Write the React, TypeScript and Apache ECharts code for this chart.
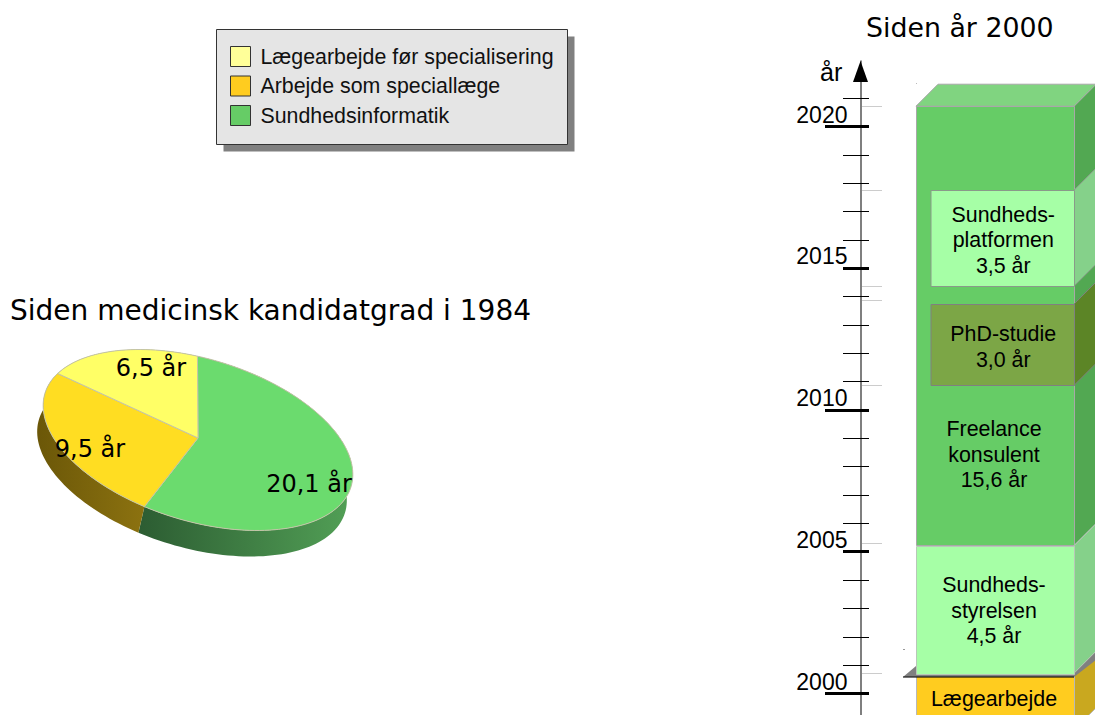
import React, { useEffect, useRef } from "react";
import * as echarts from "echarts";

// ---- Pie data ----
const pieLabels = ["20,1 år", "9,5 år", "6,5 år"];
const pieValues = [20.1, 9.5, 6.5];
const pieColors = ["#6bdb6e", "#ffdd22", "#ffff66"];
const pieWallFrom = ["#2c5c32", "#6b5708", "#8a8a30"];
const pieWallTo = ["#52a056", "#8c7210", "#8a8a30"];
const pieLabelAnchors = [[309, 484], [90, 449], [151, 368]];

// ---- Legend ----
const legendNames = ["Lægearbejde før specialisering", "Arbejde som speciallæge", "Sundhedsinformatik"];
const legendColors = ["#ffff99", "#ffcc1f", "#66cc66"];

// ---- Timeline ----
const tickYears = [2000, 2001, 2002, 2003, 2004, 2005, 2006, 2007, 2008, 2009, 2010, 2011, 2012, 2013, 2014, 2015, 2016, 2017, 2018, 2019, 2020, 2021];
const longTickYears = [2000, 2010, 2020];
const heavyTickYears = [2005, 2015];
const boundaryYears = [2000, 2004.6, 2010.15, 2013.15, 2013.65, 2017.05, 2020];

const blockLabels = ["Lægearbejde", "Freelance\nkonsulent\n15,6 år", "Sundheds-\nstyrelsen\n4,5 år", "PhD-studie\n3,0 år", "Sundheds-\nplatformen\n3,5 år"];
const blockStart = [1998, 2004.5, 2000, 2010.15, 2013.65];
const blockEnd = [1999.9, 2020, 2004.5, 2013.02, 2017.04];
const blockLabelYear = [1999.08, 2007.7, 2002.2, 2011.5, 2015.27];
const blockInset = [false, false, false, true, true];
const blockFront = ["#ffcc1f", "#66cc66", "#a6ffa6", "#7ca646", "#a6ffa6"];
const blockSide = ["#c9a81f", "#52a852", "#85d18a", "#5c8526", "#85d18a"];
const blockEdge = ["#b8b8b8", "#a8a8a8", "#b8c8b8", "#808080", "#8a9a8a"];

const AXIS_X = 860.5;
const DEPTH = 22;
const PX_PER_YEAR = 28.35;
const PIE = { ax: 198, ay: 438, cx: 198, cy: 440, a: 160, b: 81, phi: 17, t0: -9, dx: -6, dy: 26 };

const rad = (d: number) => (d * Math.PI) / 180;
function ellipsePoint(tDeg: number, dx = 0, dy = 0) {
  const xp = PIE.a * Math.sin(rad(tDeg));
  const yp = -PIE.b * Math.cos(rad(tDeg));
  const c = Math.cos(rad(PIE.phi));
  const s = Math.sin(rad(PIE.phi));
  return [PIE.cx + xp * c - yp * s + dx, PIE.cy + xp * s + yp * c + dy];
}
const pieTotal = pieValues.reduce((a, b) => a + b, 0);
function sliceRange(i: number) {
  let before = 0;
  for (let k = 0; k < i; k++) before += pieValues[k];
  return [PIE.t0 + (before / pieTotal) * 360, PIE.t0 + ((before + pieValues[i]) / pieTotal) * 360];
}
function arc(t0: number, t1: number, dx = 0, dy = 0) {
  const out: number[][] = [];
  const n = Math.ceil((t1 - t0) / 2);
  for (let i = 0; i <= n; i++) out.push(ellipsePoint(t0 + ((t1 - t0) * i) / n, dx, dy));
  return out;
}

const font = "Liberation Sans, Arial, sans-serif";
const titleFont = "DejaVu Sans, Verdana, sans-serif";

export default function App() {
  const ref = useRef<HTMLDivElement>(null);
  useEffect(() => {
    document.body.style.margin = "0";
    document.body.style.overflow = "hidden";
    const chart = echarts.init(ref.current!, undefined, { renderer: "svg" });
    const option: any = {
      animation: false,
      backgroundColor: "#ffffff",
      grid: [
        { left: AXIS_X, top: 61, width: 100, height: PX_PER_YEAR * 23.3 },
        { left: 916, top: 41, width: 158, height: PX_PER_YEAR * 23.3 },
      ],
      xAxis: [
        { type: "value", gridIndex: 0, min: 0, max: 1, show: false },
        { type: "value", gridIndex: 1, min: 0, max: 1, show: false },
      ],
      yAxis: [
        {
          type: "value",
          gridIndex: 0,
          min: 1999,
          max: 2022.3,
          interval: 1,
          position: "left",
          splitLine: { show: false },
          axisTick: { show: false },
          axisLine: {
            show: true,
            onZero: false,
            lineStyle: { color: "#555555", width: 1.5 },
          },
          axisLabel: {
            show: true,
            margin: 13,
            fontSize: 23,
            fontFamily: font,
            color: "#000",
            verticalAlign: "bottom",
            showMinLabel: true,
            showMaxLabel: true,
            formatter: (v: number) => (v % 5 === 0 ? String(v) : ""),
          },
        },
        { type: "value", gridIndex: 1, min: 1999, max: 2022.3, show: false },
      ],
      legend: {
        orient: "vertical",
        left: 230,
        top: 46,
        padding: 0,
        itemWidth: 20,
        itemHeight: 20,
        itemGap: 8.5,
        selectedMode: false,
        z: 6,
        textStyle: { fontFamily: font, fontSize: 21.35, lineHeight: 20, color: "#111", padding: [0, 0, 0, 5] },
        data: legendNames.map((n, i) => ({
          name: n,
          icon: "rect",
          itemStyle: { color: legendColors[i], borderColor: "#333", borderWidth: 1 },
        })),
      },
      graphic: [
        { type: "rect", z: 1, shape: { x: 223.5, y: 36.5, width: 351, height: 115 }, style: { fill: "#808080" } },
        { type: "rect", z: 2, shape: { x: 216.5, y: 29.5, width: 351, height: 115 }, style: { fill: "#e5e5e5", stroke: "#333", lineWidth: 1 } },
        { type: "text", z: 6, x: 10, y: 296, style: { text: "Siden medicinsk kandidatgrad i 1984", font: `28px ${titleFont}`, fill: "#000" } },
        { type: "text", z: 6, x: 866, y: 14, style: { text: "Siden år 2000", font: `26.8px ${titleFont}`, fill: "#000" } },
        { type: "text", z: 6, x: 820, y: 59, style: { text: "år", font: `25px ${font}`, fill: "#000" } },
        { type: "polygon", z: 6, shape: { points: [[860.5, 61], [868, 82], [853, 82]] }, style: { fill: "#000" } },
        { type: "rect", z: 1, shape: { x: 916, y: 83, width: 1, height: 1 }, style: { fill: "#bbb" } },
        { type: "rect", z: 1, shape: { x: 903, y: 649, width: 2, height: 1 }, style: { fill: "#999" } },
      ],
      series: [
        ...legendNames.map((n, i) => ({
          type: "custom",
          name: n,
          coordinateSystem: "none",
          itemStyle: { color: legendColors[i] },
          data: [],
          renderItem: () => null,
        })),
        // pie wall
        {
          type: "custom",
          coordinateSystem: "none",
          silent: true,
          z: 3,
          data: pieValues.map((v) => [v]),
          renderItem: (params: any) => {
            const i = params.dataIndex;
            const [t0, t1] = sliceRange(i);
            const top = arc(t0, t1);
            const low = arc(t0, t1, PIE.dx, PIE.dy).reverse();
            return {
              type: "polygon",
              shape: { points: [...top, ...low] },
              style: {
                fill: new echarts.graphic.LinearGradient(0, 0, 1, 0, [
                  { offset: 0, color: pieWallFrom[i] },
                  { offset: 1, color: pieWallTo[i] },
                ]),
              },
            };
          },
        },
        // pie top faces
        {
          type: "custom",
          coordinateSystem: "none",
          silent: true,
          z: 4,
          data: pieValues.map((v) => [v]),
          renderItem: (params: any) => {
            const i = params.dataIndex;
            const [t0, t1] = sliceRange(i);
            return {
              type: "polygon",
              shape: { points: [[PIE.ax, PIE.ay], ...arc(t0, t1)] },
              style: { fill: pieColors[i], stroke: "#c4c4a8", lineWidth: 1 },
            };
          },
        },
        // pie labels
        {
          type: "custom",
          coordinateSystem: "none",
          silent: true,
          z: 5,
          data: pieValues.map((v) => [v]),
          renderItem: (params: any) => {
            const i = params.dataIndex;
            return {
              type: "text",
              x: pieLabelAnchors[i][0],
              y: pieLabelAnchors[i][1],
              style: { text: pieLabels[i], font: `24px ${titleFont}`, fill: "#000", align: "center", verticalAlign: "middle" },
            };
          },
        },
        // axis ticks
        {
          type: "custom",
          xAxisIndex: 0,
          yAxisIndex: 0,
          silent: true,
          z: 3,
          data: tickYears.map((y) => [0, y]),
          renderItem: (_: any, api: any) => {
            const year = api.value(1);
            const y = Math.round(api.coord([0, year])[1]) + 0.5;
            const long = longTickYears.includes(year);
            const heavy = long || heavyTickYears.includes(year);
            return {
              type: "line",
              shape: { x1: AXIS_X - (long ? 35.5 : 17.5), y1: y, x2: AXIS_X + 8.5, y2: y },
              style: { stroke: "#000", lineWidth: heavy ? 3 : 1 },
            };
          },
        },
        // boundary marks
        {
          type: "custom",
          xAxisIndex: 1,
          yAxisIndex: 1,
          silent: true,
          z: 2,
          data: boundaryYears.map((y) => [0, y]),
          renderItem: (_: any, api: any) => {
            const y = Math.round(api.coord([0, api.value(1)])[1]) + 0.5;
            return { type: "line", shape: { x1: 862, y1: y, x2: 882, y2: y }, style: { stroke: "#cccccc", lineWidth: 1 } };
          },
        },
        // blocks
        {
          type: "custom",
          xAxisIndex: 1,
          yAxisIndex: 1,
          silent: true,
          z: 3,
          data: blockStart.map((s, i) => [s, blockEnd[i]]),
          renderItem: (params: any, api: any) => {
            const i = params.dataIndex;
            const y0 = api.coord([0, api.value(0)])[1];
            const y1 = api.coord([0, api.value(1)])[1];
            const xL = api.coord([0, 2000])[0];
            const xR = api.coord([1, 2000])[0];
            const x0 = blockInset[i] ? xL + 14.5 : xL;
            const children: any[] = [];
            children.push({
              type: "polygon",
              shape: { points: [[xR, y0], [xR, y1], [xR + DEPTH, y1 - DEPTH], [xR + DEPTH, y0 - DEPTH]] },
              style: { fill: blockSide[i], stroke: blockEdge[i], lineWidth: 1 },
            });
            if (i === 1) {
              children.push({
                type: "polygon",
                shape: { points: [[xL, y1], [xL + DEPTH, y1 - DEPTH], [xR + DEPTH, y1 - DEPTH], [xR, y1]] },
                style: { fill: "#80d480", stroke: blockEdge[i], lineWidth: 1 },
              });
            }
            children.push({
              type: "rect",
              shape: { x: x0 + 0.5, y: Math.round(y1) + 0.5, width: xR - x0, height: Math.round(y0 - y1) },
              style: { fill: blockFront[i], stroke: blockEdge[i], lineWidth: 1 },
            });
            if (i === 0) {
              // shelf between the two periods
              children.push({
                type: "polygon",
                shape: { points: [[xL - 13, y1 + 1], [xL, y1 - 10], [xR, y1 - 10], [xR + DEPTH, y1 - 26], [xR + DEPTH, y1 - 16], [xR, y1 + 1]] },
                style: { fill: "#808080" },
              });
              children.push({ type: "line", shape: { x1: xL - 13, y1: y1 + 1, x2: xR, y2: y1 + 1 }, style: { stroke: "#000", lineWidth: 1 } });
            }
            const ly = api.coord([0, blockLabelYear[i]])[1];
            children.push({
              type: "text",
              x: blockInset[i] ? (x0 + xR) / 2 + 1 : (x0 + xR) / 2 - 1,
              y: ly,
              z2: 10,
              style: {
                text: blockLabels[i],
                font: `21.4px ${font}`,
                lineHeight: 25.5,
                fill: "#000",
                align: "center",
                verticalAlign: "middle",
              },
            });
            return { type: "group", children };
          },
        },
      ],
    };
    chart.setOption(option);
    return () => chart.dispose();
  }, []);
  return (
    <div style={{ width: 1095, height: 715, overflow: "hidden" }}>
      <div ref={ref} style={{ width: 1095, height: 760 }} />
    </div>
  );
}
